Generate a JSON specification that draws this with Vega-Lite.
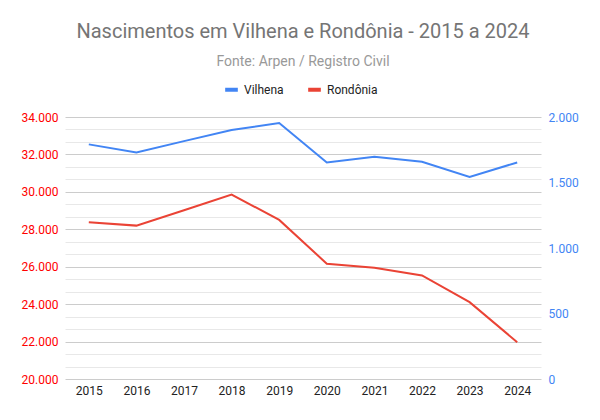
{
  "$schema": "https://vega.github.io/schema/vega-lite/v6.json",
  "description": "Nascimentos em Vilhena e Rondônia, 2015 a 2024",
  "autosize": "none",
  "width": 476,
  "height": 262,
  "padding": {"left": 65, "top": 117, "right": 59, "bottom": 41},
  "background": "#ffffff",
  "title": {
    "text": "Nascimentos em Vilhena e Rondônia - 2015 a 2024",
    "subtitle": "Fonte: Arpen / Registro Civil",
    "anchor": "middle",
    "font": "Roboto",
    "fontSize": 20,
    "fontWeight": "normal",
    "color": "#757575",
    "subtitleFont": "Roboto",
    "subtitleFontSize": 14,
    "subtitleColor": "#999999",
    "subtitlePadding": 13,
    "offset": 12
  },
  "data": {
    "values": [
      {"ano": "2015", "Vilhena": 1791, "Rondonia": 28380},
      {"ano": "2016", "Vilhena": 1730, "Rondonia": 28196},
      {"ano": "2017", "Vilhena": 1816, "Rondonia": 29018},
      {"ano": "2018", "Vilhena": 1900, "Rondonia": 29857},
      {"ano": "2019", "Vilhena": 1954, "Rondonia": 28500},
      {"ano": "2020", "Vilhena": 1653, "Rondonia": 26161},
      {"ano": "2021", "Vilhena": 1696, "Rondonia": 25946},
      {"ano": "2022", "Vilhena": 1658, "Rondonia": 25536},
      {"ano": "2023", "Vilhena": 1543, "Rondonia": 24107},
      {"ano": "2024", "Vilhena": 1653, "Rondonia": 21964}
    ]
  },
  "encoding": {
    "x": {
      "field": "ano",
      "type": "ordinal",
      "scale": {"paddingInner": 0, "paddingOuter": 0},
      "axis": {
        "title": null,
        "labelAngle": 0,
        "labelColor": "#222222",
        "labelFont": "Roboto",
        "labelFontSize": 12,
        "labelPadding": 6,
        "ticks": false,
        "domain": false,
        "grid": false
      }
    }
  },
  "layer": [
    {
      "mark": {"type": "line", "strokeWidth": 2},
      "encoding": {
        "y": {
          "field": "Vilhena",
          "type": "quantitative",
          "scale": {"domain": [0, 2000], "nice": false},
          "axis": {
            "orient": "right",
            "title": null,
            "values": [0, 500, 1000, 1500, 2000],
            "labelExpr": "replace(format(datum.value, ','), ',', '.')",
            "labelColor": "#4285f4",
            "labelFont": "Roboto",
            "labelFontSize": 12,
            "labelPadding": 7,
            "ticks": false,
            "domain": false,
            "grid": false
          }
        },
        "color": {"datum": "Vilhena"}
      }
    },
    {
      "mark": {"type": "line", "strokeWidth": 2},
      "encoding": {
        "y": {
          "field": "Rondonia",
          "type": "quantitative",
          "scale": {"domain": [20000, 34000], "nice": false},
          "axis": {
            "orient": "left",
            "title": null,
            "values": [20000, 20666.667, 21333.333, 22000, 22666.667, 23333.333, 24000, 24666.667, 25333.333, 26000, 26666.667, 27333.333, 28000, 28666.667, 29333.333, 30000, 30666.667, 31333.333, 32000, 32666.667, 33333.333, 34000],
            "labelExpr": "datum.value % 2000 === 0 ? replace(format(datum.value, ','), ',', '.') : ''",
            "labelOverlap": false,
            "labelColor": "#ff0000",
            "labelFont": "Roboto",
            "labelFontSize": 12,
            "labelPadding": 7,
            "ticks": false,
            "domain": false,
            "grid": true,
            "gridColor": {
              "condition": {"test": "datum.value % 2000 === 0", "value": "#cccccc"},
              "value": "#e8e8e8"
            },
            "gridWidth": 1
          }
        },
        "color": {"datum": "Rondônia"}
      }
    }
  ],
  "resolve": {"scale": {"y": "independent"}},
  "config": {
    "view": {"stroke": null},
    "range": {"category": ["#4285f4", "#ea4335"]},
    "legend": {
      "orient": "none",
      "legendX": 158,
      "legendY": -36,
      "direction": "horizontal",
      "title": null,
      "symbolType": "stroke",
      "symbolStrokeWidth": 4,
      "symbolSize": 160,
      "labelFont": "Roboto",
      "labelFontSize": 12,
      "labelColor": "#222222",
      "columnPadding": 16,
      "symbolOffset": 0
    }
  }
}
